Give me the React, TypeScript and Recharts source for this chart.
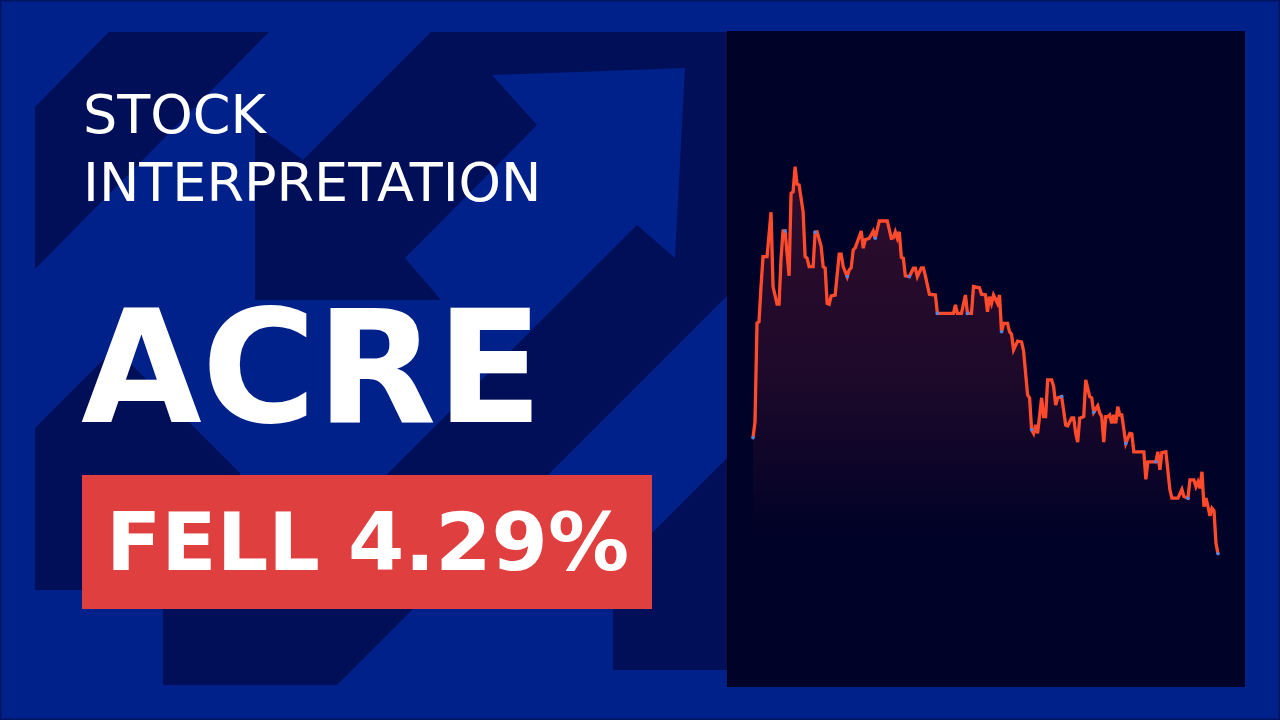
import { AreaChart, Area, XAxis, YAxis } from "recharts";

const FONT = "'DejaVu Sans', 'Liberation Sans', sans-serif";

// trading day index since the window start, and the close on that day
const tradingDays = [
  0, 1, 2, 3, 4, 5, 7, 9, 10, 12,
  13, 14, 15, 16, 18, 19, 20, 21, 22, 23,
  25, 26, 27, 28, 30, 31, 32, 34, 35, 36,
  37, 38, 39, 41, 43, 44, 45, 47, 48, 49,
  50, 51, 54, 55, 56, 58, 60, 61, 63, 67,
  69, 70, 71, 72, 73, 74, 75, 76, 78, 80,
  81, 82, 84, 85, 86, 88, 91, 92, 100, 101,
  102, 104, 106, 107, 109, 110, 113, 114, 116, 117,
  118, 119, 120, 122, 123, 124, 125, 127, 128, 129,
  130, 132, 134, 135, 137, 138, 139, 140, 141, 142,
  144, 145, 146, 147, 149, 150, 151, 152, 154, 156,
  157, 159, 160, 161, 162, 163, 165, 166, 168, 169,
  170, 172, 173, 174, 175, 176, 177, 178, 179, 180,
  181, 182, 183, 184, 186, 188, 189, 190, 195, 196,
  197, 201, 202, 203, 204, 206, 208, 209, 212, 214,
  215, 217, 218, 220, 221, 222, 223, 224, 225, 226,
  227, 228, 229, 230, 231, 232,
];

const closePrices = [
  7.88, 8.28, 10.75, 10.78, 11.66, 12.41, 12.41, 13.52, 11.66, 11.22,
  11.22, 12.37, 13.05, 13.05, 11.93, 13.99, 14.03, 14.66, 14.22, 14.2,
  13.53, 12.41, 12.37, 12.16, 12.16, 13.02, 13.03, 12.66, 12.16, 12.12,
  11.24, 11.22, 11.43, 11.45, 12.47, 12.47, 12.16, 11.91, 12.08, 12.13,
  12.58, 12.63, 13.05, 12.62, 12.83, 12.87, 13.05, 12.87, 13.3, 13.3,
  12.87, 12.88, 13.03, 12.87, 13.03, 12.39, 12.37, 11.93, 11.91, 12.12,
  12.12, 11.91, 12.13, 12.13, 11.93, 11.47, 11.45, 10.99, 10.99, 11.2,
  10.99, 10.99, 11.45, 10.99, 10.99, 11.66, 11.63, 11.47, 11.45, 11.03,
  11.41, 11.24, 11.45, 11.24, 11.45, 10.53, 10.74, 10.74, 10.53, 10.47,
  10.08, 10.3, 10.28, 10.05, 8.95, 8.88, 8.08, 7.99, 8.2, 7.99,
  8.88, 8.41, 8.41, 9.33, 9.33, 9.16, 8.7, 8.88, 8.91, 8.2,
  8.18, 8.38, 8.38, 7.99, 7.77, 8.37, 8.41, 9.33, 8.91, 8.88,
  8.52, 8.68, 8.5, 8.41, 7.77, 8.41, 8.41, 8.45, 8.24, 8.45,
  8.24, 8.66, 8.45, 8.45, 7.74, 7.99, 7.98, 7.53, 7.53, 6.84,
  7.28, 7.28, 7.53, 7.08, 7.51, 7.53, 6.58, 6.37, 6.37, 6.59,
  6.41, 6.37, 6.83, 6.83, 6.66, 6.78, 6.62, 7.03, 6.16, 6.37,
  6.16, 5.93, 6.12, 6.06, 5.24, 4.98,
];

// sampled days that get a small marker on the line
const markedDays = [0, 16, 31, 47, 61, 78, 92, 107, 124, 139, 154, 170, 186, 201, 217, 232];

const ticker = "ACRE";
const changePct = 4.29;

const chartData = tradingDays.map((day, i) => ({ day, close: closePrices[i] }));

// decorative arrow shapes behind the title
const backdropShapes = [
  "35,107 109,32 269,32 35,269",
  "255,125 303,160 431,32 727,32 727,296 414,609 252,609 637,225 675,258 685,68 492,75 537,125 405,258 441,300 255,300",
  "35,428 115,348 240,473 240,590 35,590",
  "163,600 422,600 337,685 163,685",
  "613,572 727,458 727,670 613,670",
];

function MarkerDot(props: any) {
  const { cx, cy, payload, index } = props;
  if (!markedDays.includes(payload?.day)) return <g key={`d-${index}`} />;
  return <circle key={`d-${index}`} cx={cx} cy={cy} r={1.8} fill="#4d86e6" />;
}

export default function App() {
  return (
    <div
      style={{
        position: "absolute",
        left: 0,
        top: 0,
        width: 1280,
        height: 720,
        overflow: "hidden",
        background: "#00218a",
        fontFamily: FONT,
      }}
    >
      <svg width={1280} height={720} style={{ position: "absolute", left: 0, top: 0 }}>
        <rect x={0.5} y={0.5} width={1279} height={719} fill="none" stroke="#00135e" strokeWidth={2} />
        {backdropShapes.map((pts, i) => (
          <polygon key={i} points={pts} fill="#000f58" />
        ))}

        <text x={83} y={133} fill="#ffffff" fontSize={54} fontFamily={FONT}>
          STOCK
        </text>
        <text x={83} y={201} fill="#ffffff" fontSize={54} fontFamily={FONT}>
          INTERPRETATION
        </text>
        <text x={81} y={422} fill="#ffffff" fontSize={156} fontWeight="bold" fontFamily={FONT}>
          {ticker}
        </text>

        <rect x={82} y={475} width={570} height={134} fill="#df3f3f" />
        <text x={106} y={570} fill="#ffffff" fontSize={81} fontWeight="bold" fontFamily={FONT}>
          {`FELL ${changePct.toFixed(2)}%`}
        </text>
      </svg>

      <div
        style={{
          position: "absolute",
          left: 727,
          top: 31,
          width: 518,
          height: 656,
          background: "#000227",
          borderLeft: "1px solid #000010",
          boxSizing: "border-box",
        }}
      >
        <AreaChart
          width={518}
          height={656}
          data={chartData}
          margin={{ top: 122, right: 28, bottom: 94, left: 25 }}
        >
          <defs>
            <linearGradient id="closeFill" x1="0" y1="0" x2="0" y2="1">
              <stop offset="0%" stopColor="#a82a3a" stopOpacity={0.48} />
              <stop offset="50%" stopColor="#a02838" stopOpacity={0.3} />
              <stop offset="87%" stopColor="#a02838" stopOpacity={0} />
            </linearGradient>
          </defs>
          <XAxis type="number" dataKey="day" domain={[0, 232]} hide />
          <YAxis type="number" domain={[4, 15]} hide />
          <Area
            type="linear"
            dataKey="close"
            stroke="#ff4a2b"
            strokeWidth={3.3}
            fill="url(#closeFill)"
            dot={MarkerDot}
            activeDot={false}
            isAnimationActive={false}
          />
        </AreaChart>
      </div>
    </div>
  );
}
